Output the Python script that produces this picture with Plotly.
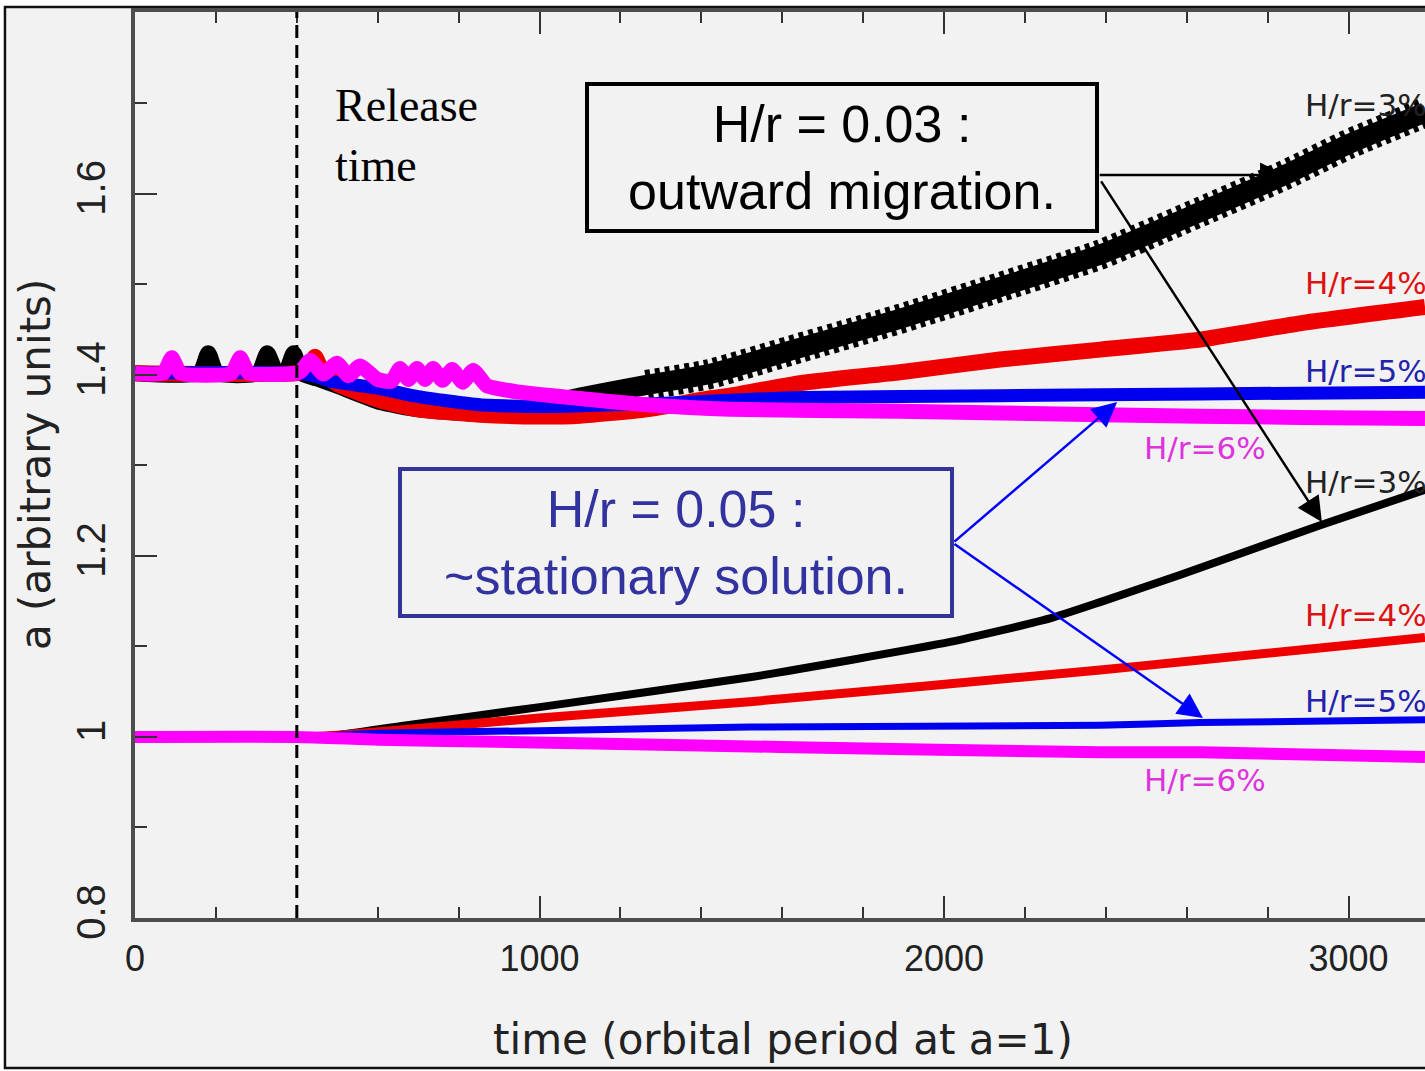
import plotly.graph_objects as go

# ---------------- data: semi-major axis a(t) for each disc aspect ratio ----------------
release_time = 400

# planets started at a = 1.4
up_black_t = [0, 160, 181, 202, 305, 327, 350, 372, 392, 412, 450, 500, 606, 700, 853, 950,
              1100, 1265, 1420, 1644, 1891, 2138, 2386, 2633, 2843, 3000, 3189]
up_black_a = [1.402, 1.402, 1.424, 1.402, 1.402, 1.424, 1.402, 1.402, 1.424, 1.402, 1.396, 1.388,
              1.370, 1.362, 1.357, 1.360, 1.375, 1.389, 1.401, 1.430, 1.462, 1.497, 1.533, 1.580,
              1.621, 1.655, 1.690]

up_red_t = [0, 400, 430, 445, 465, 500, 606, 700, 853, 1000, 1100, 1265, 1420, 1471, 1644,
            1891, 2138, 2386, 2633, 2880, 3189]
up_red_a = [1.402, 1.402, 1.406, 1.420, 1.402, 1.390, 1.372, 1.362, 1.356, 1.354, 1.355, 1.362,
            1.374, 1.377, 1.391, 1.403, 1.417, 1.428, 1.439, 1.457, 1.475]

up_blue_t = [0, 400, 450, 482, 606, 700, 853, 1000, 1100, 1265, 1471, 1644, 2138, 2633, 3189]
up_blue_a = [1.402, 1.402, 1.398, 1.393, 1.385, 1.376, 1.367, 1.365, 1.366, 1.368, 1.372, 1.375,
             1.377, 1.379, 1.381]

up_mag_t = [0, 70, 91, 112, 239, 260, 281, 400, 412, 433, 466, 499, 528, 556, 600, 634, 655,
            676, 697, 717, 737, 760, 784, 810, 836, 870, 950, 1100, 1265, 1471, 1891, 2386,
            2880, 3189]
up_mag_a = [1.402, 1.402, 1.419, 1.402, 1.402, 1.419, 1.402, 1.402, 1.405, 1.416, 1.401, 1.413,
            1.399, 1.410, 1.395, 1.393, 1.407, 1.395, 1.407, 1.395, 1.407, 1.394, 1.406, 1.392,
            1.405, 1.388, 1.381, 1.374, 1.367, 1.362, 1.360, 1.356, 1.353, 1.352]

# planets started at a = 1.0
lo_black_t = [0, 400, 500, 655, 1000, 1520, 2015, 2262, 2386, 2583, 2930, 3189]
lo_black_a = [1.0, 1.0, 1.002, 1.012, 1.033, 1.066, 1.105, 1.131, 1.149, 1.179, 1.234, 1.273]

lo_red_t = [0, 400, 500, 1000, 1520, 2386, 2633, 3189]
lo_red_a = [1.0, 1.0, 1.002, 1.021, 1.039, 1.074, 1.085, 1.110]

lo_blue_t = [0, 400, 600, 1000, 1520, 2386, 2633, 3189]
lo_blue_a = [1.0, 1.0, 1.004, 1.007, 1.011, 1.013, 1.016, 1.019]

lo_mag_t = [0, 400, 600, 853, 1595, 2386, 2633, 3189]
lo_mag_a = [1.0, 1.0, 0.997, 0.995, 0.989, 0.983, 0.983, 0.978]

x_ticks = [0, 1000, 2000, 3000]
y_ticks = [0.8, 1.0, 1.2, 1.4, 1.6]
y_tick_text = ["0.8", "1", "1.2", "1.4", "1.6"]

# ---------------- styling ----------------
BLACK, RED, BLUE, MAG = "#000000", "#ee0000", "#0000ee", "#ff00ff"
AXIS = "#4d4d4d"
BG = "#f2f2f2"
IDL_FONT = "DejaVu Sans"
TICK_FONT = "Liberation Sans"

fig = go.Figure()


def curve(t, a, color, width, dash="solid"):
    fig.add_trace(go.Scatter(x=t, y=a, mode="lines",
                             line=dict(color=color, width=width, dash=dash,
                                       shape="spline", smoothing=0.5),
                             hoverinfo="skip", showlegend=False))


# upper family; the strongly oscillating H/r=3% run is drawn as a serrated band once it departs
curve(up_black_t, up_black_a, BLACK, 16)
k = up_black_t.index(950)
curve(up_black_t[k:], up_black_a[k:], BLACK, 20)
k2 = up_black_t.index(1265)
curve(up_black_t[k2:], up_black_a[k2:], BLACK, 30, dash="5px,5px")
curve(up_red_t, up_red_a, RED, 16)
curve(up_blue_t, up_blue_a, BLUE, 13)
curve(up_mag_t, up_mag_a, MAG, 15)

# lower family
curve(lo_black_t, lo_black_a, BLACK, 8)
curve(lo_red_t, lo_red_a, RED, 9)
curve(lo_blue_t, lo_blue_a, BLUE, 7)
curve(lo_mag_t, lo_mag_a, MAG, 12)

shapes = [
    # framed grey panel behind the whole chart
    dict(type="rect", xref="paper", yref="paper", x0=-0.1008, x1=1.2, y0=-0.1656, y1=1.0055,
         fillcolor=BG, line=dict(color="#111", width=2.5), layer="below"),
    # release time marker
    dict(type="line", xref="x", yref="paper", x0=release_time, x1=release_time, y0=0, y1=1,
         line=dict(color="black", width=3, dash="13px,7px")),
]

annotations = []


def label(x, y, text, color, size=31):
    annotations.append(dict(x=x, y=y, xref="x", yref="y", text=text, showarrow=False,
                            xanchor="left", yanchor="middle",
                            font=dict(family=IDL_FONT, size=size, color=color)))


label(2888, 1.698, "H/r=3%", "#222222")
label(2888, 1.502, "H/r=4%", "#dd1111")
label(2888, 1.404, "H/r=5%", "#2222aa")
label(2490, 1.319, "H/r=6%", "#dd33dd")
label(2888, 1.282, "H/r=3%", "#222222")
label(2888, 1.135, "H/r=4%", "#dd1111")
label(2888, 1.040, "H/r=5%", "#2222aa")
label(2490, 0.952, "H/r=6%", "#dd33dd")

# release label
annotations.append(dict(x=489, y=1.728, xref="x", yref="y", text="Release<br>time",
                        showarrow=False, xanchor="left", yanchor="top", align="left",
                        font=dict(family="Liberation Serif", size=46, color="black")))


def arrow(x0, y0, x1, y1, color, width):
    annotations.append(dict(x=x1, y=y1, ax=x0, ay=y0, xref="x", yref="y", axref="x", ayref="y",
                            text="", showarrow=True, arrowhead=2, arrowsize=2,
                            arrowwidth=width, arrowcolor=color, standoff=0))


arrow(2381, 1.621, 2843, 1.621, "black", 2.5)
arrow(2386, 1.6155, 2934, 1.2376, "black", 2.5)
arrow(2022, 1.2144, 2428, 1.370, "#0000ff", 2.5)
arrow(2022, 1.2144, 2640, 1.021, "#0000ff", 2.5)

# text boxes
annotations.append(dict(x=1748, y=1.6403, xref="x", yref="y",
                        text="H/r = 0.03 :<br>outward migration.", showarrow=False,
                        font=dict(family="Liberation Sans", size=52, color="black"),
                        bgcolor=BG, bordercolor="black", borderwidth=4, borderpad=0,
                        width=506, height=143, align="center"))
annotations.append(dict(x=1337.5, y=1.2149, xref="x", yref="y",
                        text="H/r = 0.05 :<br>~stationary solution.", showarrow=False,
                        font=dict(family="Liberation Sans", size=52, color="#3333a0"),
                        bgcolor=BG, bordercolor="#33339a", borderwidth=4, borderpad=0,
                        width=548, height=143, align="center"))

# axis titles
annotations.append(dict(x=0.5024, y=-0.134, xref="paper", yref="paper",
                        text="time (orbital period at a=1)", showarrow=False,
                        xanchor="center", yanchor="middle",
                        font=dict(family=IDL_FONT, size=42, color="#222")))
annotations.append(dict(x=-0.0775, y=0.5, xref="paper", yref="paper",
                        text="a (arbitrary units)", showarrow=False, textangle=-90,
                        xanchor="center", yanchor="middle",
                        font=dict(family=IDL_FONT, size=42, color="#222")))

fig.update_layout(
    width=1425, height=1071,
    margin=dict(l=135, r=0, t=12, b=153),
    paper_bgcolor="white",
    plot_bgcolor="rgba(0,0,0,0)",
    shapes=shapes,
    annotations=annotations,
    showlegend=False,
)

fig.update_xaxes(
    range=[0, 3189], showgrid=False, zeroline=False,
    showline=True, linewidth=4, linecolor=AXIS, mirror="allticks",
    tickvals=x_ticks, ticks="inside", ticklen=22, tickwidth=2, tickcolor="#333",
    ticklabelstandoff=6,
    tickfont=dict(family=TICK_FONT, size=36, color="#222"),
    minor=dict(dtick=200, tick0=0, ticks="inside", ticklen=11, tickwidth=2, tickcolor="#333"),
)
fig.update_yaxes(
    range=[0.8, 1.801], showgrid=False, zeroline=False,
    showline=True, linewidth=4, linecolor=AXIS,
    tickvals=y_ticks, ticktext=y_tick_text, tickangle=-90,
    ticks="inside", ticklen=22, tickwidth=2, tickcolor="#333",
    ticklabelstandoff=10,
    tickfont=dict(family=TICK_FONT, size=40, color="#222"),
    minor=dict(dtick=0.1, tick0=0.8, ticks="inside", ticklen=12, tickwidth=2, tickcolor="#333"),
)

fig.write_html("out.html")
